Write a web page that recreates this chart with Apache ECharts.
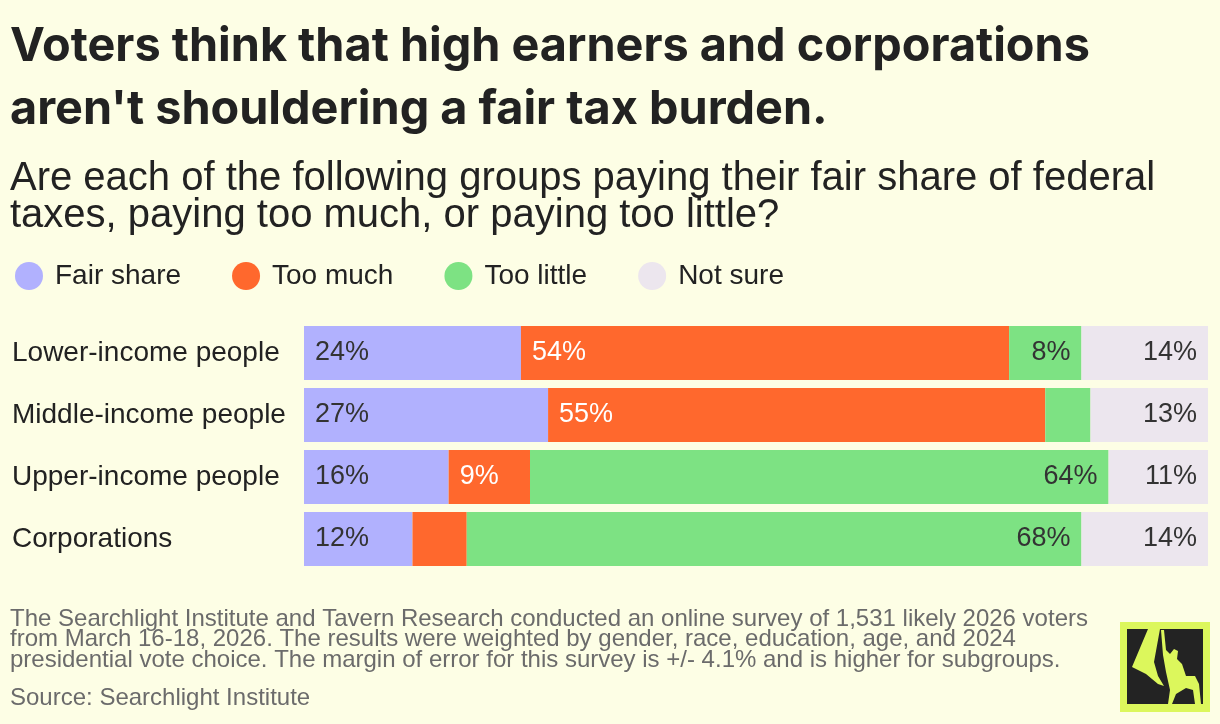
<!DOCTYPE html>
<html><head><meta charset="utf-8">
<script src="https://cdn.jsdelivr.net/npm/echarts@6/dist/echarts.min.js"></script>
<style>html,body{margin:0;padding:0;background:#fdfee5}#c{width:1220px;height:724px}</style>
</head><body><div id="c"></div>
<script>
const categories = ['Lower-income people','Middle-income people','Upper-income people','Corporations'];
const seriesNames = ['Fair share','Too much','Too little','Not sure'];
const fairShare = [24, 27, 16, 12];
const tooMuch = [54, 55, 9, 6];
const tooLittle = [8, 5, 64, 68];
const notSure = [14, 13, 11, 14];
const titleLines = ['Voters think that high earners and corporations', "aren't shouldering a fair tax burden."];
const subtitleLines = ['Are each of the following groups paying their fair share of federal', 'taxes, paying too much, or paying too little?'];
const noteLines = [
 'The Searchlight Institute and Tavern Research conducted an online survey of 1,531 likely 2026 voters',
 'from March 16-18, 2026. The results were weighted by gender, race, education, age, and 2024',
 'presidential vote choice. The margin of error for this survey is +/- 4.1% and is higher for subgroups.'
];
const sourceText = 'Source: Searchlight Institute';

const colors = ['#b1b1fe','#ff682d','#7de283','#ece6ee'];
const labelCfg = [
  {position:'insideLeft', color:'#333333'},
  {position:'insideLeft', color:'#ffffff'},
  {position:'insideRight', color:'#333333'},
  {position:'insideRight', color:'#333333'}
];
const dataSets = [fairShare, tooMuch, tooLittle, notSure];
const FONT = '"Liberation Sans", Arial, sans-serif';

const chart = echarts.init(document.getElementById('c'));
chart.setOption({
  backgroundColor:'#fdfee5',
  animation:false,
  textStyle:{fontFamily:FONT},
  title:[
    {text:titleLines.join('\n'), left:5, top:10,
     textStyle:{fontFamily:'Inter', fontWeight:700, fontSize:46.8, lineHeight:63, color:'#222222'}},
    {text:subtitleLines.join('\n'), left:5, top:155,
     textStyle:{fontFamily:FONT, fontWeight:400, fontSize:40, lineHeight:37, color:'#222222'}},
    {text:noteLines.join('\n'), left:5, top:604,
     textStyle:{fontFamily:FONT, fontWeight:400, fontSize:24, lineHeight:20.5, color:'#6b6b6b'}},
    {text:sourceText, left:5, top:682,
     textStyle:{fontFamily:FONT, fontWeight:400, fontSize:24, lineHeight:22, color:'#6b6b6b'}}
  ],
  legend:{
    left:10, top:251, itemWidth:28, itemHeight:28, itemGap:51, icon:'circle',
    data:seriesNames,
    textStyle:{fontFamily:FONT, fontSize:28, color:'#222222', padding:[0,0,12,7], lineHeight:28}
  },
  grid:{left:304, right:12, top:322, height:248, containLabel:false},
  xAxis:{type:'value', min:0, max:100, show:false},
  yAxis:{type:'category', data:categories, inverse:true,
    axisLine:{show:false}, axisTick:{show:false},
    axisLabel:{align:'left', margin:292, fontSize:28, color:'#222222', fontFamily:FONT, padding:[0,0,4,0]}},
  series: seriesNames.map((n,i)=>({
    name:n, type:'bar', stack:'all', data:dataSets[i],
    barCategoryGap:'12.9%',
    itemStyle:{color:colors[i]},
    label:{show:true, position:labelCfg[i].position, distance:11, color:labelCfg[i].color,
      fontSize:27, fontFamily:FONT, padding:[0,0,3,0],
      formatter:p=> p.value>=8 ? p.value+'%' : ''}
  })),
  graphic:[
    {type:'group', children:[
      {type:'rect', shape:{x:1120,y:622,width:90,height:90}, style:{fill:'#dcf75c'}},
      {type:'rect', shape:{x:1127,y:629,width:76,height:75}, style:{fill:'#232323'}},
      {type:'polygon', shape:{points:[[1148,629],[1160,629],[1154,662],[1158,676],[1164,686],[1158,684],[1146,674],[1132,667]]}, style:{fill:'#dcf75c'}},
      {type:'polygon', shape:{points:[[1161,630],[1164,630],[1166,650],[1170,654],[1174,649],[1178,651],[1177,659],[1182,664],[1186,676],[1195,676],[1199,684],[1201,704],[1195,704],[1193,690],[1186,688],[1176,694],[1172,704],[1168,704],[1170,690],[1166,672],[1163,655]]}, style:{fill:'#dcf75c'}}
    ]}
  ]
});
</script></body></html>
